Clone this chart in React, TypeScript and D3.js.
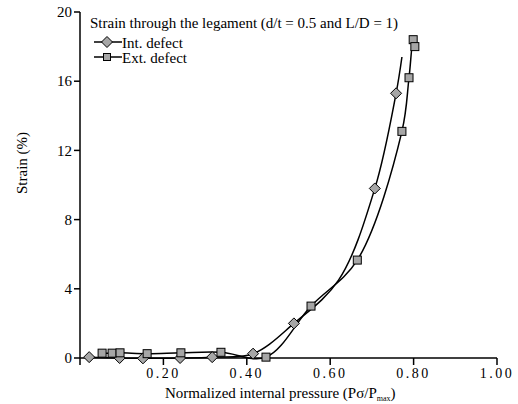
import React from "react";
import * as d3 from "d3";

const intX = [0.022, 0.095, 0.151, 0.24, 0.317, 0.415, 0.513, 0.62, 0.707, 0.758, 0.772];
const intY = [0.05, 0.0, -0.02, 0.0, 0.05, 0.25, 2.0, 4.5, 9.8, 15.3, 17.4];
const intMarked = [true, true, true, true, true, true, true, false, true, true, false];

const extX = [0.053, 0.077, 0.096, 0.161, 0.242, 0.338, 0.446, 0.554, 0.665, 0.772, 0.789, 0.799, 0.803];
const extY = [0.28, 0.28, 0.3, 0.25, 0.3, 0.33, 0.05, 3.0, 5.66, 13.1, 16.2, 18.4, 18.0];

const xTicks = [0.2, 0.4, 0.6, 0.8, 1.0];
const yTicks = [0, 4, 8, 12, 16, 20];

const W = 518;
const H = 404;
const FONT = "'Liberation Serif', 'Times New Roman', serif";
const FILL = "#a6a6a6";

export default function App() {
  const x = d3.scaleLinear().domain([0, 1]).range([80, 497]);
  const y = d3.scaleLinear().domain([0, 20]).range([358, 12]);
  const line = d3
    .line<[number, number]>()
    .x((d) => x(d[0]))
    .y((d) => y(d[1]))
    .curve(d3.curveCatmullRom.alpha(0.5));

  const intPts: [number, number][] = intX.map((v, i) => [v, intY[i]]);
  const extPts: [number, number][] = extX.map((v, i) => [v, extY[i]]);

  const sq = 8;
  const dm = 5.5;
  const diamond = (cx: number, cy: number) =>
    `M${cx},${cy - dm}L${cx + dm},${cy}L${cx},${cy + dm}L${cx - dm},${cy}Z`;

  return (
    <svg
      width={W}
      height={H}
      style={{ position: "absolute", left: 0, top: 0, background: "#fff" }}
      fontFamily={FONT}
    >
      {/* axes */}
      <line x1={80} x2={80} y1={y(20)} y2={365} stroke="#000" strokeWidth={1.5} />
      <line x1={80} x2={x(1)} y1={y(0)} y2={y(0)} stroke="#000" strokeWidth={1.5} />
      {yTicks.map((t) => (
        <g key={"y" + t}>
          <line x1={74} x2={80} y1={y(t)} y2={y(t)} stroke="#000" strokeWidth={1.5} />
          <text x={72} y={y(t)} dy="0.35em" textAnchor="end" fontSize={15}>
            {t}
          </text>
        </g>
      ))}
      {xTicks.map((t) => (
        <g key={"x" + t}>
          <line x1={x(t)} x2={x(t)} y1={y(0)} y2={y(0) + 7} stroke="#000" strokeWidth={1.5} />
          <text x={x(t)} y={378} textAnchor="middle" fontSize={14} letterSpacing={2.5}>
            {t.toFixed(2)}
          </text>
        </g>
      ))}

      {/* series lines */}
      <path d={line(extPts) || ""} fill="none" stroke="#000" strokeWidth={1.5} />
      <path d={line(intPts) || ""} fill="none" stroke="#000" strokeWidth={1.5} />

      {/* markers */}
      {intPts.map((p, i) =>
        intMarked[i] ? (
          <path key={"i" + i} d={diamond(x(p[0]), y(p[1]))} fill={FILL} stroke="#000" strokeWidth={1} />
        ) : null
      )}
      {extPts.map((p, i) => (
        <rect
          key={"e" + i}
          x={x(p[0]) - sq / 2}
          y={y(p[1]) - sq / 2}
          width={sq}
          height={sq}
          fill={FILL}
          stroke="#000"
          strokeWidth={1}
        />
      ))}

      {/* title & legend */}
      <text x={90} y={28} fontSize={15}>
        Strain through the legament (d/t = 0.5 and L/D = 1)
      </text>
      <line x1={94} x2={122} y1={42} y2={42} stroke="#000" strokeWidth={1.5} />
      <path d={diamond(107, 42)} fill={FILL} stroke="#000" strokeWidth={1} />
      <text x={122} y={48} fontSize={15}>
        Int. defect
      </text>
      <line x1={94} x2={122} y1={57} y2={57} stroke="#000" strokeWidth={1.5} />
      <rect x={107 - 3.5} y={57 - 3.5} width={7} height={7} fill={FILL} stroke="#000" strokeWidth={1} />
      <text x={122} y={63} fontSize={15}>
        Ext. defect
      </text>

      {/* axis titles */}
      <text x={165} y={398} fontSize={15}>
        Normalized internal pressure (Pσ/P
        <tspan fontSize={8} dy={3}>max</tspan>
        <tspan dy={-3}>)</tspan>
      </text>
      <text transform={`translate(27,163) rotate(-90)`} textAnchor="middle" fontSize={15}>
        Strain (%)
      </text>
    </svg>
  );
}
